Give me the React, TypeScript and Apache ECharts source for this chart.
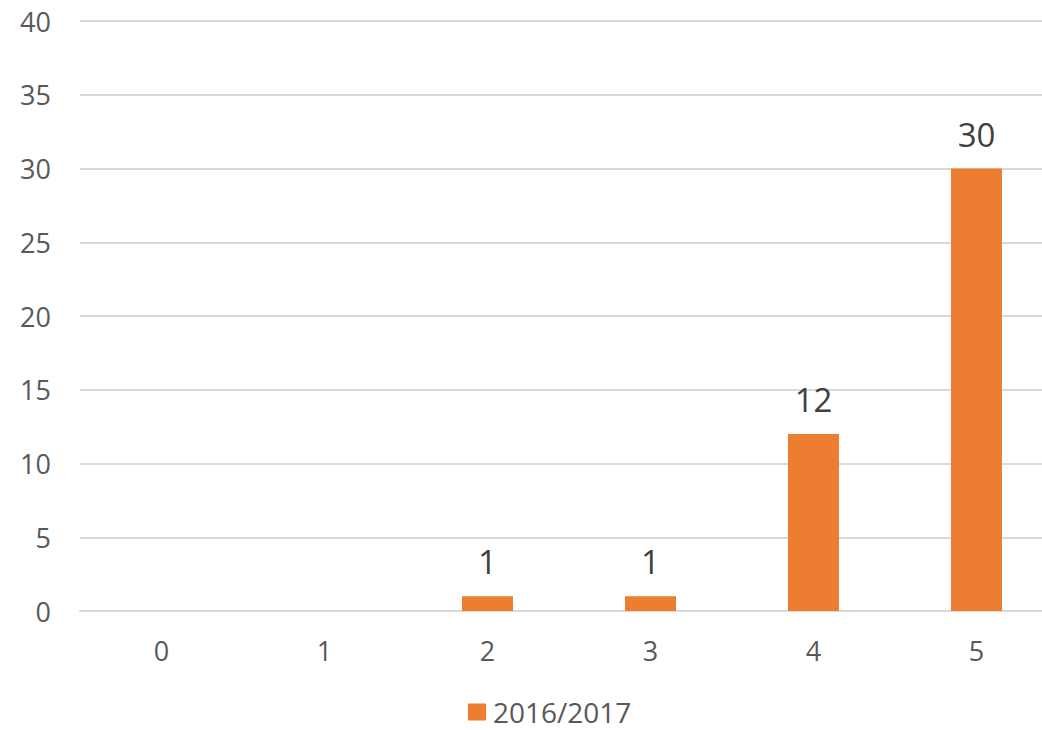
import React, { useEffect, useRef } from "react";
import * as echarts from "echarts";

const categories = ["0", "1", "2", "3", "4", "5"];
const seriesName = "2016/2017";
const values = [0, 0, 1, 1, 12, 30];
const yMin = 0;
const yMax = 40;
const yInterval = 5;

export default function App() {
  const ref = useRef<HTMLDivElement>(null);
  useEffect(() => {
    if (!ref.current) return;
    const chart = echarts.init(ref.current, null, { renderer: "svg" });
    const font = "'Open Sans', 'Noto Sans', sans-serif";
    chart.setOption({
      animation: false,
      grid: { left: 80, right: 0, top: 21, bottom: 119, containLabel: false },
      legend: {
        data: [seriesName],
        top: 697,
        left: 468,
        padding: 0,
        icon: "rect",
        itemWidth: 18,
        itemHeight: 17,
        itemGap: 10,
        textStyle: { fontFamily: font, fontSize: 28, lineHeight: 30, color: "#595959", padding: [0, 0, 0, 2] },
      },
      xAxis: {
        type: "category",
        data: categories,
        axisLine: { show: true, lineStyle: { color: "#D9D9D9", width: 2 } },
        axisTick: { show: false },
        axisLabel: { fontFamily: font, fontSize: 27, color: "#595959", margin: 26 },
      },
      yAxis: {
        type: "value",
        min: yMin,
        max: yMax,
        interval: yInterval,
        axisLine: { show: false },
        axisTick: { show: false },
        splitLine: { lineStyle: { color: "#D9D9D9", width: 2 } },
        axisLabel: { fontFamily: font, fontSize: 27, color: "#595959", margin: 29 },
      },
      series: [
        {
          name: seriesName,
          type: "bar",
          data: values,
          barWidth: 51,
          itemStyle: { color: "#ED7D31" },
          label: {
            show: true,
            position: "top",
            distance: 18,
            fontFamily: font,
            fontSize: 33,
            color: "#404040",
            formatter: (p: any) => (p.value === 0 ? "" : String(p.value)),
          },
        },
      ],
    });
    return () => chart.dispose();
  }, []);
  return (
    <div
      style={{ position: "absolute", left: 0, top: 0, width: 1042, height: 730, overflow: "hidden", background: "#fff" }}
    >
      <div ref={ref} style={{ width: 1058, height: 730 }} />
    </div>
  );
}
